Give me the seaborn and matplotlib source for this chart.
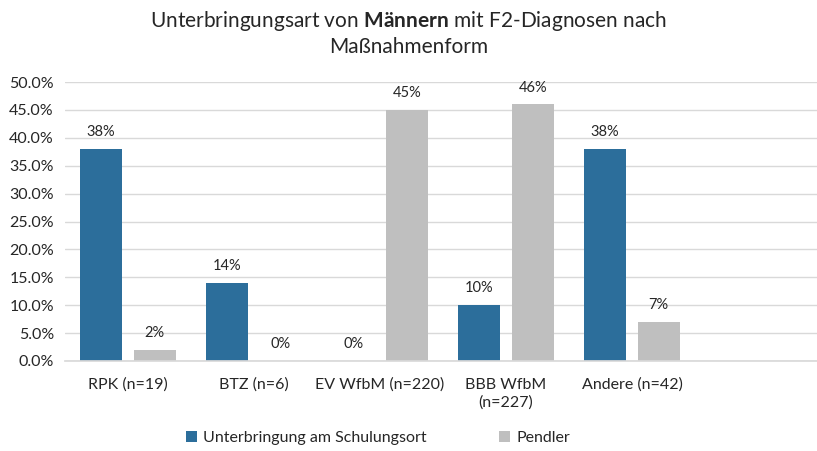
import pandas as pd
import matplotlib
matplotlib.use("Agg")
import matplotlib.pyplot as plt
import seaborn as sns
from matplotlib.ticker import PercentFormatter, MultipleLocator

# --- Daten ---
kategorien = ['RPK (n=19)', 'BTZ (n=6)', 'EV WfbM (n=220)', 'BBB WfbM\n(n=227)', 'Andere (n=42)']
schulungsort = [38, 14, 0, 10, 38]
pendler = [2, 0, 45, 46, 7]
serien = ['Unterbringung am Schulungsort', 'Pendler']

df = pd.DataFrame({
    'Kategorie': kategorien * 2,
    'Anteil': schulungsort + pendler,
    'Serie': [serien[0]] * len(kategorien) + [serien[1]] * len(kategorien),
})

sns.set_theme(style="white")
plt.rcParams['font.family'] = ['Lato', 'DejaVu Sans']
plt.rcParams['mathtext.fontset'] = 'custom'
plt.rcParams['mathtext.rm'] = 'Lato'
plt.rcParams['mathtext.bf'] = 'Lato:bold'

farbe_text = '#262626'
fig = plt.figure(figsize=(8.17, 4.51), dpi=100)
ax = fig.add_axes([65 / 817, 90 / 451, 756 / 817, 279 / 451])

sns.barplot(
    data=df, x='Kategorie', y='Anteil', hue='Serie',
    order=kategorien, hue_order=serien,
    palette=['#2C6E9B', '#BFBFBF'],
    width=0.85, gap=0.215, saturation=1, linewidth=0,
    ax=ax,
)

for cont in ax.containers:
    ax.bar_label(cont, fmt='{:.0f}%', padding=7, fontsize=10.5, color=farbe_text)

ax.set_xlim(-0.5, 5.5)
ax.set_ylim(0, 50)
ax.yaxis.set_major_locator(MultipleLocator(5))
ax.yaxis.set_major_formatter(PercentFormatter(xmax=100, decimals=1))
ax.grid(axis='y', color='#D9D9D9', linewidth=1)
ax.set_axisbelow(True)
for s in ['top', 'right', 'left']:
    ax.spines[s].set_visible(False)
ax.spines['bottom'].set_color('#D9D9D9')
ax.tick_params(axis='both', length=0, labelsize=11.5, colors=farbe_text)
ax.tick_params(axis='x', pad=12)
ax.tick_params(axis='y', pad=8)
for lbl in ax.get_xticklabels():
    lbl.set_linespacing(1.35)
ax.set_xlabel('')
ax.set_ylabel('')

fig.text(0.5, 1 - 33 / 451, 'Unterbringungsart von $\\mathbf{Männern}$ mit F2-Diagnosen nach\nMaßnahmenform',
         ha='center', va='center', fontsize=15, color=farbe_text, linespacing=1.3)

ax.legend(loc='center', bbox_to_anchor=(378 / 817, 13 / 451), bbox_transform=fig.transFigure,
          ncol=2, frameon=False, fontsize=11.5, handlelength=0.7, handleheight=0.7,
          handletextpad=0.4, columnspacing=4.5, labelcolor=farbe_text)

fig.savefig('out.png', dpi=100)
